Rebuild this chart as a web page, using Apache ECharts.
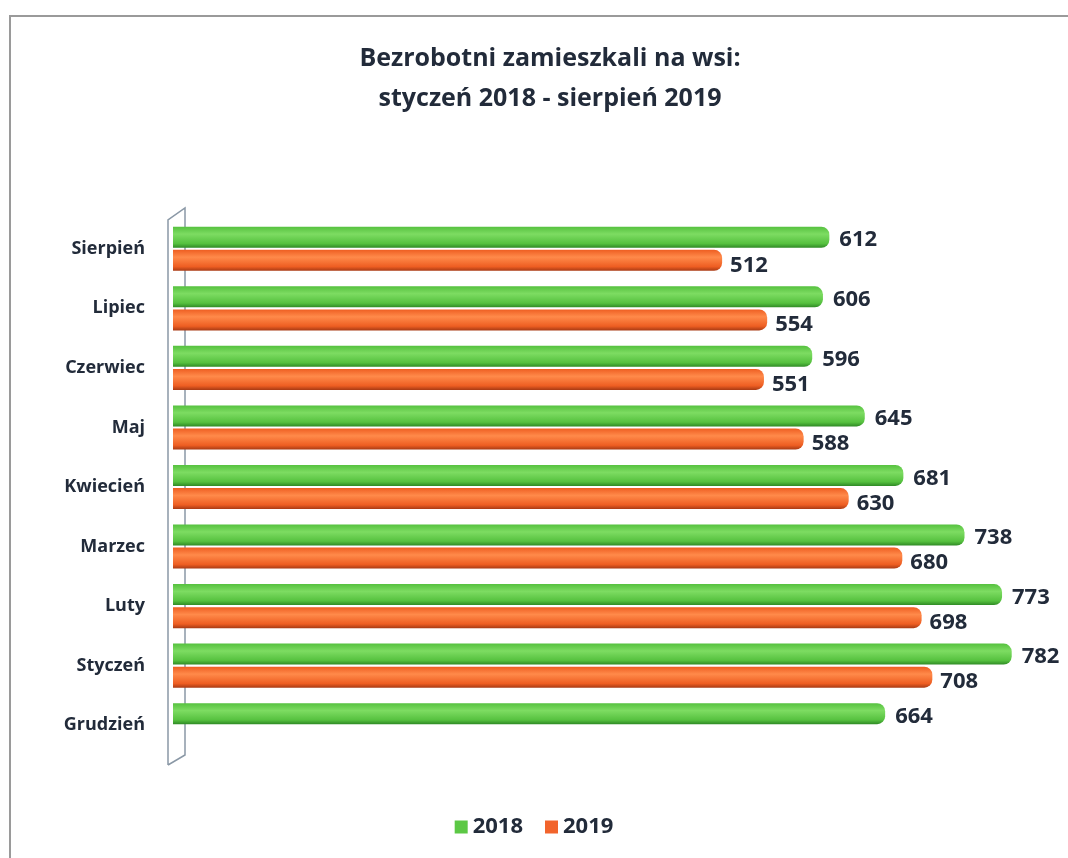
<!DOCTYPE html>
<html>
<head>
<meta charset="utf-8">
<script src="https://cdn.jsdelivr.net/npm/echarts@6/dist/echarts.min.js"></script>
<style>
  html, body { margin: 0; padding: 0; background: #fff; }
  #chart { width: 1068px; height: 858px; }
</style>
</head>
<body>
<div id="chart"></div>
<script>
// kategorie od dołu do góry
const months = ['Grudzień', 'Styczeń', 'Luty', 'Marzec', 'Kwiecień', 'Maj', 'Czerwiec', 'Lipiec', 'Sierpień']
const values2018 = [664, 782, 773, 738, 681, 645, 596, 606, 612]
const values2019 = [null, 708, 698, 680, 630, 588, 551, 554, 512]
const seriesNames = ['2018', '2019']

const textColor = '#222b3a'
const font = '"Open Sans", "Noto Sans", sans-serif'

const chart = echarts.init(document.getElementById('chart'))

function tube(light, mid, dark) {
  return new echarts.graphic.LinearGradient(0, 0, 0, 1, [
    { offset: 0, color: mid },
    { offset: 0.35, color: light },
    { offset: 0.8, color: mid },
    { offset: 1, color: dark }
  ])
}

chart.setOption({
  animation: false,
  title: {
    text: 'Bezrobotni zamieszkali na wsi:\nstyczeń 2018 - sierpień 2019',
    left: 545,
    textAlign: 'center',
    top: 34,
    textStyle: {
      fontFamily: font,
      fontSize: 25,
      fontWeight: 'bold',
      color: textColor,
      lineHeight: 40
    }
  },
  legend: {
    data: [
      { name: seriesNames[0], itemStyle: { color: '#5cc845' } },
      { name: seriesNames[1], itemStyle: { color: '#f2642c' } }
    ],
    bottom: 15,
    left: 'center',
    itemWidth: 13,
    itemHeight: 13,
    itemGap: 22,
    icon: 'rect',
    textStyle: { fontFamily: font, fontSize: 22, fontWeight: 'bold', color: textColor }
  },
  graphic: [
    {
      type: 'polyline',
      shape: { points: [[10, 858], [10, 16], [1068, 16]] },
      style: { stroke: '#9a9a9a', lineWidth: 2, fill: null }
    },
    {
      type: 'polyline',
      shape: { points: [[168, 765], [168, 220], [185, 208], [185, 755], [168, 765]] },
      style: { stroke: '#8a98a6', lineWidth: 1.5, fill: null }
    }
  ],
  grid: {
    left: 173,
    top: 219,
    width: 858,
    height: 536
  },
  xAxis: {
    type: 'value',
    min: 0,
    max: 800,
    show: false
  },
  yAxis: {
    type: 'category',
    data: months,
    axisLine: { show: false },
    axisTick: { show: false },
    axisLabel: {
      margin: 28,
      fontFamily: font,
      fontSize: 18,
      fontWeight: 'bold',
      color: textColor
    }
  },
  series: [
    {
      name: seriesNames[0],
      type: 'bar',
      data: values2018,
      barWidth: 21,
      barGap: '10%',
      itemStyle: {
        color: tube('#7ddc62', '#56c13f', '#2f8a25'),
        borderRadius: [0, 8, 8, 0]
      },
      label: {
        show: true,
        position: 'right',
        distance: 10,
        offset: [0, 3],
        fontFamily: font,
        fontSize: 22,
        fontWeight: 'bold',
        color: textColor
      }
    },
    {
      name: seriesNames[1],
      type: 'bar',
      data: values2019,
      barWidth: 21,
      itemStyle: {
        color: tube('#ff8a4a', '#ee5e22', '#a83a14'),
        borderRadius: [0, 8, 8, 0]
      },
      label: {
        show: true,
        position: 'right',
        distance: 8,
        offset: [0, 5],
        fontFamily: font,
        fontSize: 22,
        fontWeight: 'bold',
        color: textColor
      }
    }
  ]
})
</script>
</body>
</html>
